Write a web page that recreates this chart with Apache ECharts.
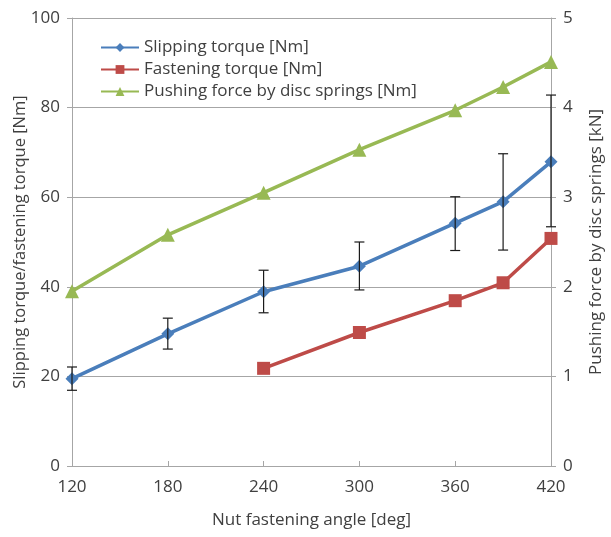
<!DOCTYPE html>
<html>
<head>
<meta charset="utf-8">
<script src="https://cdn.jsdelivr.net/npm/echarts@6/dist/echarts.min.js"></script>
<style>
  html, body { margin: 0; padding: 0; background: #fff; }
  #chart { width: 611px; height: 537px; }
</style>
</head>
<body>
<div id="chart"></div>
<script>
const angles = [120, 180, 240, 300, 360, 390, 420];
const slipping = [19.5, 29.5, 38.9, 44.6, 54.2, 59, 67.9];
const slipLow = [16.9, 26.1, 34.2, 39.3, 48.1, 48.2, 53.4];
const slipHigh = [22.1, 33, 43.7, 50, 60.1, 69.7, 82.8];
const fastenAngles = [240, 300, 360, 390, 420];
const fastening = [21.8, 29.8, 36.9, 40.9, 50.8];
const pushing = [1.95, 2.58, 3.05, 3.53, 3.97, 4.23, 4.51];

const font = "'Open Sans', 'Liberation Sans', sans-serif";
const textColor = "#404040";

const chart = echarts.init(document.getElementById("chart"));

const errData = angles.map((a, i) => [a, slipLow[i], slipHigh[i]]);

const option = {
  animation: false,
  textStyle: { fontFamily: font },
  grid: { left: 72, right: 60, top: 18, bottom: 71, outerBoundsMode: "none" },
  legend: {
    orient: "vertical",
    left: 95,
    top: 34,
    itemWidth: 38,
    itemHeight: 11,
    itemGap: 5,
    textStyle: { fontSize: 17, color: textColor, fontFamily: font },
    data: ["Slipping torque [Nm]", "Fastening torque [Nm]", "Pushing force by disc springs [Nm]"],
  },
  xAxis: {
    type: "value",
    min: 120,
    max: 420,
    interval: 60,
    name: "Nut fastening angle [deg]",
    nameLocation: "middle",
    nameGap: 46,
    nameMoveOverlap: false,
    nameTextStyle: { fontSize: 17, color: textColor },
    axisLine: { lineStyle: { color: "#a6a6a6" } },
    axisTick: { show: true, inside: true, length: 5, lineStyle: { color: "#a6a6a6" } },
    axisLabel: { fontSize: 17, color: textColor, margin: 13 },
    splitLine: { show: false },
  },
  yAxis: [
    {
      type: "value",
      min: 0,
      max: 100,
      interval: 20,
      name: "Slipping torque/fastening torque [Nm]",
      nameLocation: "middle",
      nameGap: 43,
      nameMoveOverlap: false,
      nameTextStyle: { fontSize: 16.5, color: textColor },
      axisLine: { show: true, lineStyle: { color: "#a6a6a6" } },
      axisTick: { show: true, length: 5, lineStyle: { color: "#a6a6a6" } },
      axisLabel: { fontSize: 17, color: textColor, margin: 12 },
      splitLine: { lineStyle: { color: "#a6a6a6", width: 1 } },
    },
    {
      type: "value",
      min: 0,
      max: 5,
      interval: 1,
      position: "right",
      name: "Pushing force by disc springs [kN]",
      nameLocation: "middle",
      nameGap: 37,
      nameRotate: 90,
      nameMoveOverlap: false,
      nameTextStyle: { fontSize: 17, color: textColor },
      axisLine: { show: true, lineStyle: { color: "#a6a6a6" } },
      axisTick: { show: true, length: 5, lineStyle: { color: "#a6a6a6" } },
      axisLabel: { fontSize: 17, color: textColor, margin: 12 },
      splitLine: { show: false },
    },
  ],
  series: [
    {
      name: "Slipping torque [Nm]",
      type: "line",
      data: angles.map((a, i) => [a, slipping[i]]),
      symbol: "diamond",
      symbolSize: 13,
      lineStyle: { color: "#4a7ebb", width: 3.5 },
      itemStyle: { color: "#4a7ebb" },
      z: 3,
    },
    {
      name: "slipErr",
      type: "custom",
      data: errData,
      z: 4,
      renderItem: (params, api) => {
        const x = api.value(0);
        const lo = api.coord([x, api.value(1)]);
        const hi = api.coord([x, api.value(2)]);
        const w = 5;
        const style = { stroke: "#1a1a1a", lineWidth: 1.2 };
        return {
          type: "group",
          children: [
            { type: "line", shape: { x1: lo[0], y1: lo[1], x2: hi[0], y2: hi[1] }, style },
            { type: "line", shape: { x1: lo[0] - w, y1: lo[1], x2: lo[0] + w, y2: lo[1] }, style },
            { type: "line", shape: { x1: hi[0] - w, y1: hi[1], x2: hi[0] + w, y2: hi[1] }, style },
          ],
        };
      },
    },
    {
      name: "Fastening torque [Nm]",
      type: "line",
      data: fastenAngles.map((a, i) => [a, fastening[i]]),
      symbol: "rect",
      symbolSize: 13,
      lineStyle: { color: "#be4b48", width: 3.5 },
      itemStyle: { color: "#be4b48" },
      z: 3,
    },
    {
      name: "Pushing force by disc springs [Nm]",
      type: "line",
      yAxisIndex: 1,
      data: angles.map((a, i) => [a, pushing[i]]),
      symbol: "triangle",
      symbolSize: 14,
      lineStyle: { color: "#98b954", width: 3.5 },
      itemStyle: { color: "#98b954" },
      z: 3,
    },
  ],
};

chart.setOption(option);
</script>
</body>
</html>
